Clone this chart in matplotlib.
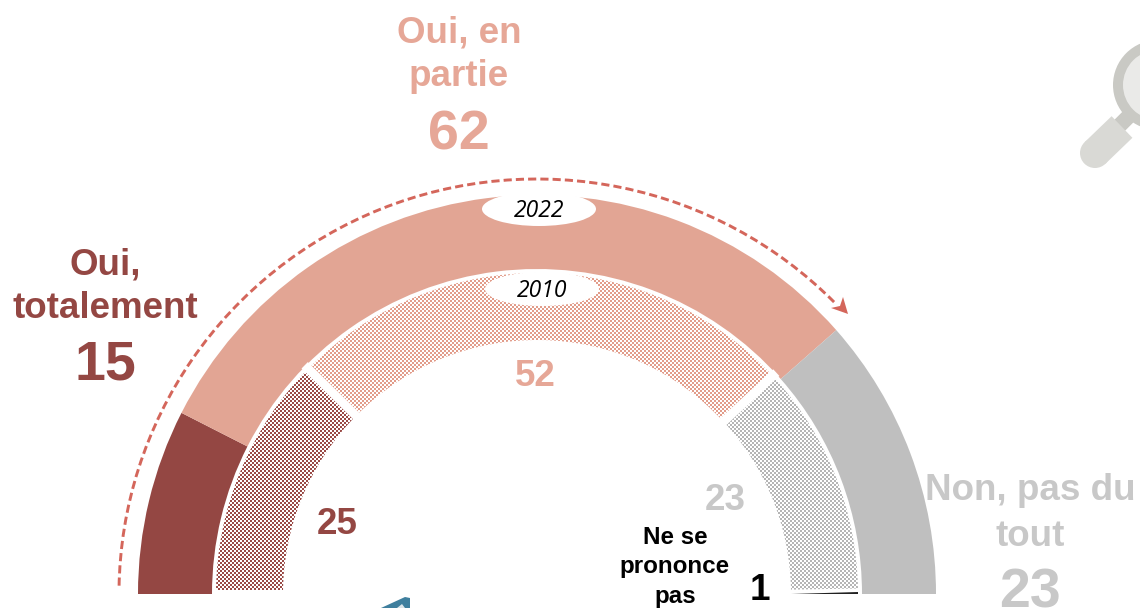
import numpy as np
import matplotlib
matplotlib.use("Agg")
import matplotlib.pyplot as plt
from matplotlib.colors import to_rgb
from matplotlib.patches import Wedge, Ellipse, Arc, Circle, Polygon, Rectangle

# valeurs
labels = ["Oui, totalement", "Oui, en partie", "Non, pas du tout", "Ne se prononce pas"]
values_2022 = [15, 62, 23]
values_2010 = [25, 52, 23, 1]

DARK = "#944743"
PINK = "#E2A594"
GREY = "#BFBFBF"
PINK_TXT = "#E6A797"
GREY_TXT = "#C8C8C8"
DASH = "#D4665B"
colors = [DARK, PINK, GREY, "#222222"]
checker_colors = ["#9A4A46", "#E29C8A", "#B5B5B5"]

W, H = 1140, 608
CX, CY = 537, 14  # centre du demi-cercle (y vers le haut)

plt.rcParams["font.family"] = ["Liberation Sans", "DejaVu Sans"]

fig = plt.figure(figsize=(W / 100, H / 100), dpi=100)
ax = fig.add_axes([0, 0, 1, 1])


def angles(values):
    # 180 degres = total, de gauche a droite
    c = np.cumsum([0] + list(values)) / sum(values)
    return 180 - c * 180


def pol(r, a):
    return CX + r * np.cos(np.radians(a)), CY + r * np.sin(np.radians(a))


def checker(color):
    # trame en damier de 2 px, le meme rendu que le graphique d'origine
    yy, xx = np.mgrid[0:H, 0:W]
    mask = ((xx // 2 + yy // 2) % 2 == 0)
    img = np.ones((H, W, 3))
    img[mask] = to_rgb(color)
    return img


# anneau exterieur 2022
a22 = angles(values_2022)
for i in range(3):
    ax.add_patch(Wedge((CX, CY), 399, a22[i + 1], a22[i], width=74, fc=colors[i], ec="none"))

# anneau interieur 2010 (trame)
a10 = angles(values_2010)
R_in, r_in = 321, 254
for i in range(3):
    a_end = a10[i + 1] if i < 2 else a10[i + 1] * 0.55
    w = Wedge((CX, CY), R_in, a_end, a10[i], width=R_in - r_in, fc="none", ec="none")
    ax.add_patch(w)
    im = ax.imshow(checker(checker_colors[i]), extent=(0, W, 0, H), origin="lower",
                   interpolation="nearest", aspect="auto", zorder=1)
    im.set_clip_path(w)
# separations blanches
for a in a10[1:3]:
    x0, y0 = pol(r_in - 5, a)
    x1, y1 = pol(R_in + 5, a)
    ax.plot([x0, x1], [y0, y1], color="white", lw=6.5, solid_capstyle="butt", zorder=2)
ax.add_patch(Rectangle((CX - R_in - 3, CY - 2), R_in - r_in + 6, 6, fc="white", ec="none", zorder=2))

# ne se prononce pas : trait tres fin
ax.add_patch(Polygon([[CX + r_in, CY], [CX + R_in, CY], [CX + R_in, CY + 2.5]],
                     fc=colors[3], ec="none", zorder=2))

# fleche pointillee
ax.add_patch(Arc((CX, CY), 836, 830, theta1=44.5, theta2=179.2, color=DASH, lw=2.1,
                 ls=(0, (2.8, 1.4)), zorder=3))
tip = np.array(pol(418.5, 42))
ax.add_patch(Polygon([tip, tip + [-17, 6], tip + [-8, 8], tip + [-5, 17]],
                     fc=DASH, ec="none", zorder=3))

# pastilles des annees
for (x, y), yr in zip([(539, H - 209), (542, H - 289)], ["2022", "2010"]):
    ax.add_patch(Ellipse((x, y), 114, 34, fc="white", ec="none", zorder=4))
    ax.text(x, y - 2, yr, family=["Open Sans", "DejaVu Sans"], style="italic", fontsize=16.5,
            ha="center", va="center", color="black", zorder=5)


def txt(x, y, s, size, color):
    ax.text(x, H - y - 3, s, fontsize=size, fontweight="bold", color=color,
            ha="center", va="center", zorder=5)


txt(459, 30, "Oui, en", 26.5, PINK_TXT)
txt(459, 74, "partie", 26.5, PINK_TXT)
txt(459, 132, str(values_2022[1]), 40, PINK_TXT)
txt(105, 262, "Oui,", 26.5, DARK)
txt(105, 306, "totalement", 26.5, DARK)
txt(105, 363, str(values_2022[0]), 40, DARK)
txt(1030, 488, "Non, pas du", 26.5, GREY_TXT)
txt(1030, 533, "tout", 26.5, GREY_TXT)
txt(1030, 590, str(values_2022[2]), 40, GREY_TXT)
txt(535, 374, str(values_2010[1]), 26.5, PINK_TXT)
txt(337, 522, str(values_2010[0]), 26.5, DARK)
txt(725, 497, str(values_2010[2]), 26.5, GREY_TXT)
txt(675, 535, "Ne se", 17.4, "black")
txt(675, 564, "prononce", 17.4, "black")
txt(675, 593, "pas", 17.4, "black")
txt(760, 587, str(values_2010[3]), 26.5, "black")

# loupe (coupee par le bord)
clip = Rectangle((0, H - 169), W, 169, transform=ax.transData)
ax.add_patch(Circle((1158, H - 85), 45, fc="#C9C9C4", ec="none"))
ax.add_patch(Circle((1158, H - 85), 35, fc="#EAEAE8", ec="none"))
ax.plot([1130, 1118], [H - 115, H - 127], color="#C9C9C4", lw=11, solid_capstyle="butt")
ax.plot([1122, 1095], [H - 127, H - 153], color="#D9D9D5", lw=21.6, solid_capstyle="butt")
end = Circle((1095, H - 153), 15, fc="#D9D9D5", ec="none")
ax.add_patch(end)
end.set_clip_path(clip)

# bout de fleche bleue en bas
ax.add_patch(Polygon([[381, 0], [405, 11], [410, 10], [410, 0]], fc="#3F7F9E", ec="none"))
ax.add_patch(Polygon([[397, 0], [402, 4], [405, 0]], fc="#DDE6EA", ec="none"))

ax.set_xlim(0, W)
ax.set_ylim(0, H)
ax.axis("off")

fig.savefig("out.png", dpi=100)
